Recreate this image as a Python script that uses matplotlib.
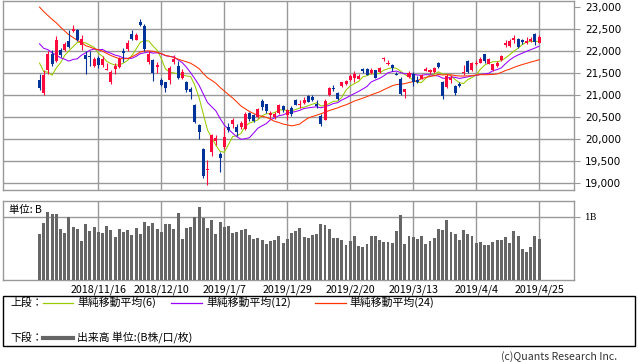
import numpy as np
import pandas as pd
import matplotlib
matplotlib.use('Agg')
import matplotlib.pyplot as plt
from matplotlib.lines import Line2D
from matplotlib.patches import Rectangle

plt.rcParams['font.family'] = ['Noto Sans CJK JP', 'DejaVu Sans']

# daily candles, 2018/10/29 - 2019/4/25
dates = [
    '2018/10/29', '2018/10/30', '2018/10/31', '2018/11/1', '2018/11/2', '2018/11/5', '2018/11/6',
    '2018/11/7', '2018/11/8', '2018/11/9', '2018/11/12', '2018/11/13', '2018/11/14', '2018/11/15',
    '2018/11/16', '2018/11/19', '2018/11/20', '2018/11/21', '2018/11/22', '2018/11/26', '2018/11/27',
    '2018/11/28', '2018/11/29', '2018/11/30', '2018/12/3', '2018/12/4', '2018/12/5', '2018/12/6',
    '2018/12/7', '2018/12/10', '2018/12/11', '2018/12/12', '2018/12/13', '2018/12/14', '2018/12/17',
    '2018/12/18', '2018/12/19', '2018/12/20', '2018/12/21', '2018/12/25', '2018/12/26', '2018/12/27',
    '2018/12/28', '2019/1/4', '2019/1/7', '2019/1/8', '2019/1/9', '2019/1/10', '2019/1/11',
    '2019/1/15', '2019/1/16', '2019/1/17', '2019/1/18', '2019/1/21', '2019/1/22', '2019/1/23',
    '2019/1/24', '2019/1/25', '2019/1/28', '2019/1/29', '2019/1/30', '2019/1/31', '2019/2/1',
    '2019/2/4', '2019/2/5', '2019/2/6', '2019/2/7', '2019/2/8', '2019/2/12', '2019/2/13',
    '2019/2/14', '2019/2/15', '2019/2/18', '2019/2/19', '2019/2/20', '2019/2/21', '2019/2/22',
    '2019/2/25', '2019/2/26', '2019/2/27', '2019/2/28', '2019/3/1', '2019/3/4', '2019/3/5',
    '2019/3/6', '2019/3/7', '2019/3/8', '2019/3/11', '2019/3/12', '2019/3/13', '2019/3/14',
    '2019/3/15', '2019/3/18', '2019/3/19', '2019/3/20', '2019/3/22', '2019/3/25', '2019/3/26',
    '2019/3/27', '2019/3/28', '2019/3/29', '2019/4/1', '2019/4/2', '2019/4/3', '2019/4/4',
    '2019/4/5', '2019/4/8', '2019/4/9', '2019/4/10', '2019/4/11', '2019/4/12', '2019/4/15',
    '2019/4/16', '2019/4/17', '2019/4/18', '2019/4/19', '2019/4/22', '2019/4/23', '2019/4/24',
    '2019/4/25',
]
opens = [
    21326, 21038, 21553, 21932, 21765, 22008, 22008, 22220, 22440, 22477,
    22136, 21894, 21871, 21659, 21826, 21674, 21570, 21288, 21576, 21629,
    21992, 22030, 22386, 22250, 22652, 22553, 21742, 21780, 21629, 21341,
    21288, 21326, 21742, 21651, 21386, 21288, 21136, 20773, 20303, 19773,
    19300, 19697, 19947, 19655, 19811, 20280, 20326, 20280, 20280, 20227,
    20583, 20545, 20492, 20860, 20780, 20530, 20490, 20591, 20735, 20530,
    20705, 20871, 20760, 20818, 20962, 20947, 20800, 20508, 20432, 21000,
    21150, 21038, 21189, 21250, 21326, 21386, 21364, 21576, 21583, 21492,
    21553, 21515, 21800, 21689, 21667, 21470, 21348, 21061, 21401, 21462,
    21330, 21364, 21530, 21515, 21515, 21720, 21288, 21174, 21341, 21189,
    21250, 21490, 21758, 21553, 21700, 21727, 21917, 21705, 21568, 21644,
    21780, 22121, 22098, 22235, 22273, 22250, 22174, 22220, 22371, 22182,
]
highs = [
    21480, 21553, 21990, 22010, 22330, 22060, 22200, 22460, 22583, 22490,
    22350, 22000, 22000, 21850, 21880, 21880, 21720, 21550, 21720, 21850,
    22050, 22230, 22462, 22400, 22712, 22600, 22000, 21820, 21750, 21380,
    21300, 21660, 21900, 21760, 21590, 21320, 21180, 20800, 20330, 19800,
    19530, 20100, 20080, 19700, 20266, 20350, 20470, 20340, 20400, 20600,
    20600, 20570, 20700, 20900, 20800, 20640, 20620, 20800, 20760, 20680,
    20740, 20900, 20870, 20960, 21000, 20990, 20870, 20560, 20900, 21180,
    21230, 21060, 21300, 21330, 21460, 21530, 21460, 21600, 21600, 21600,
    21570, 21640, 21860, 21780, 21700, 21520, 21400, 21140, 21530, 21520,
    21420, 21480, 21630, 21590, 21640, 21750, 21320, 21480, 21440, 21220,
    21290, 21680, 21780, 21740, 21780, 21860, 21930, 21840, 21700, 21760,
    21900, 22230, 22270, 22350, 22280, 22270, 22300, 22300, 22390, 22350,
]
lows = [
    21100, 21000, 21480, 21650, 21740, 21850, 21990, 22050, 22420, 22220,
    22020, 21477, 21660, 21630, 21600, 21640, 21560, 21240, 21470, 21600,
    21750, 22000, 22240, 22240, 22560, 22000, 21700, 21311, 21500, 21190,
    21070, 21250, 21700, 21350, 21360, 21060, 20900, 20350, 20000, 19120,
    18948, 19620, 19860, 19241, 19770, 20150, 20250, 20070, 20220, 20200,
    20400, 20380, 20470, 20650, 20590, 20440, 20450, 20560, 20600, 20420,
    20520, 20760, 20700, 20800, 20830, 20850, 20690, 20300, 20430, 20980,
    21090, 20880, 21170, 21210, 21320, 21290, 21350, 21500, 21440, 21480,
    21370, 21500, 21770, 21670, 21540, 21440, 21000, 20920, 21390, 21200,
    21260, 21350, 21530, 21470, 21500, 21600, 20911, 21150, 21270, 20990,
    21180, 21440, 21500, 21540, 21680, 21720, 21730, 21700, 21540, 21630,
    21770, 22090, 22080, 22180, 22060, 22150, 22140, 22200, 22120, 22170,
]
closes = [
    21149, 21457, 21920, 21687, 22243, 21898, 22147, 22085, 22486, 22250,
    22269, 21810, 21846, 21803, 21680, 21821, 21583, 21507, 21646, 21812,
    21952, 22177, 22262, 22351, 22574, 22036, 21919, 21501, 21679, 21219,
    21148, 21603, 21816, 21374, 21506, 21115, 21061, 20392, 20166, 19155,
    19327, 20077, 20015, 19561, 20038, 20204, 20427, 20163, 20359, 20555,
    20442, 20402, 20666, 20719, 20622, 20593, 20574, 20773, 20649, 20664,
    20556, 20773, 20788, 20883, 20844, 20874, 20751, 20333, 20864, 21144,
    21139, 20900, 21281, 21302, 21431, 21464, 21425, 21528, 21449, 21556,
    21385, 21602, 21822, 21726, 21596, 21456, 21025, 21125, 21503, 21290,
    21287, 21451, 21584, 21566, 21608, 21627, 20977, 21428, 21378, 21033,
    21205, 21509, 21505, 21713, 21724, 21807, 21761, 21802, 21687, 21711,
    21870, 22169, 22221, 22277, 22090, 22200, 22217, 22259, 22200, 22307,
]
# volume, in billions
volumes = [
    0.73, 0.905, 1.08, 1.05, 1.05, 0.81, 0.75, 0.995, 0.84, 0.81,
    0.61, 0.89, 0.78, 0.84, 0.76, 0.75, 0.86, 0.79, 0.68, 0.81,
    0.76, 0.79, 0.71, 0.825, 0.73, 0.92, 0.86, 0.905, 0.81, 0.76,
    0.89, 0.89, 0.81, 1.06, 0.65, 0.825, 0.84, 1.0, 1.16, 0.98,
    0.825, 0.95, 0.73, 0.92, 0.84, 0.86, 0.75, 0.76, 0.79, 0.81,
    0.71, 0.65, 0.67, 0.635, 0.57, 0.61, 0.635, 0.70, 0.59, 0.65,
    0.75, 0.78, 0.825, 0.68, 0.67, 0.71, 0.73, 0.89, 0.87, 0.81,
    0.67, 0.67, 0.635, 0.555, 0.62, 0.70, 0.54, 0.52, 0.57, 0.70,
    0.70, 0.635, 0.60, 0.60, 0.59, 0.78, 1.03, 0.57, 0.70, 0.68,
    0.65, 0.70, 0.57, 0.62, 0.67, 0.81, 0.79, 0.95, 0.76, 0.73,
    0.635, 0.79, 0.73, 0.70, 0.59, 0.60, 0.555, 0.555, 0.60, 0.635,
    0.635, 0.68, 0.59, 0.78, 0.70, 0.49, 0.44, 0.52, 0.70, 0.65,
]
# closes 2018/9/25 - 10/26, only needed to start the averages
earlier_closes = [
    23940, 24033, 23796, 24120, 24245, 24270, 24110, 23975, 23784, 23469,
    23506, 22590, 22694, 22271, 22549, 22841, 22658, 22532, 22614, 22010,
    22091, 21268, 21184,
]
ma_periods = [6, 12, 24]
ma_labels = ['単純移動平均(6)', '単純移動平均(12)', '単純移動平均(24)']
price_ticks = [19000, 19500, 20000, 20500, 21000, 21500, 22000, 22500, 23000]

RED = '#ff0a3c'
BLUE = '#003399'
GRID = '#999999'
ma_colors = ['#99cc00', '#9900ff', '#ff3300']

W, H = 638, 362


def box(l, t, r, b):
    return [l / W, 1 - b / H, (r - l) / W, (b - t) / H]


x = np.arange(len(dates))
o = np.array(opens)
c = np.array(closes)
colors = np.where(c >= o, RED, BLUE)
tick_idx = list(range(14, len(dates), 15))

fig = plt.figure(figsize=(W / 100, H / 100), dpi=100)
ax = fig.add_axes(box(3, 1, 574, 190))
axv = fig.add_axes(box(3, 201, 574, 280))

# moving averages
all_closes = pd.Series(earlier_closes + closes, dtype=float)
n_prev = len(earlier_closes)
for p, col in zip(ma_periods, ma_colors):
    ma = all_closes.rolling(p).mean().to_numpy()[n_prev:]
    ax.plot(x, ma, color=col, lw=0.75, zorder=2)

# candles
ax.vlines(x, lows, highs, colors=colors, lw=0.8, zorder=3)
ax.bar(x, np.maximum(np.abs(c - o), 20), bottom=np.minimum(o, c), width=0.72,
       color=colors, linewidth=0, zorder=4)

# volume
axv.bar(x, volumes, width=0.7, color='#666666', linewidth=0, zorder=3)

for a in (ax, axv):
    a.set_xlim(-8.7, 127.3)
    a.set_xticks(tick_idx)
    a.grid(axis='x', color=GRID, lw=1, zorder=0)
    a.grid(axis='y', color=GRID, lw=1, zorder=0)
    a.set_axisbelow(True)
    for s in a.spines.values():
        s.set_color(GRID)
        s.set_linewidth(1)
    a.yaxis.tick_right()
    a.tick_params(axis='y', length=4, color=GRID, pad=4, width=0.8)
    a.tick_params(axis='x', length=0)

ax.set_ylim(18841, 23125)
ax.set_yticks(price_ticks)
ax.set_yticklabels([f'{v:,}' for v in price_ticks], family='DejaVu Sans', fontsize=7.5)
ax.get_ygridlines()[-1].set_visible(False)
ax.tick_params(axis='x', labelbottom=False)

axv.set_ylim(0, 1.248)
axv.set_yticks([1])
axv.set_yticklabels(['1B'], family='DejaVu Serif', fontsize=6.5)
axv.set_xticklabels([dates[i] for i in tick_idx], fontsize=7.7)
axv.tick_params(axis='x', pad=3)
axv.text(0.0105, 0.885, '単位: B', transform=axv.transAxes, fontsize=7.5, va='center', ha='left')

# legend box
fig.add_artist(Rectangle((3 / W, 1 - 346 / H), 632 / W, 50 / H, transform=fig.transFigure,
                         fill=False, edgecolor='black', lw=1))
y1 = 1 - 302.5 / H
y2 = 1 - 337.5 / H
fig.text(10 / W, y1, '上段：', fontsize=7.8, va='center')
segs = [(43, 73, 77), (171, 202, 206), (315, 346, 349)]
for (l0, l1, tx), col, lab in zip(segs, ma_colors, ma_labels):
    fig.add_artist(Line2D([l0 / W, l1 / W], [y1, y1], transform=fig.transFigure, color=col, lw=0.9))
    fig.text(tx / W, y1, lab, fontsize=7.8, va='center')
fig.text(10 / W, y2, '下段：', fontsize=7.8, va='center')
fig.add_artist(Line2D([43 / W, 73 / W], [y2, y2], transform=fig.transFigure, color='#666666', lw=3))
fig.text(77 / W, y2, '出来高 単位:(B株/口/枚)', fontsize=7.8, va='center')
fig.text(617 / W, 1 - 356.5 / H, '(c)Quants Research Inc.', fontsize=7.6, va='center', ha='right',
         color='#333333')

fig.savefig('out.png', dpi=100)
